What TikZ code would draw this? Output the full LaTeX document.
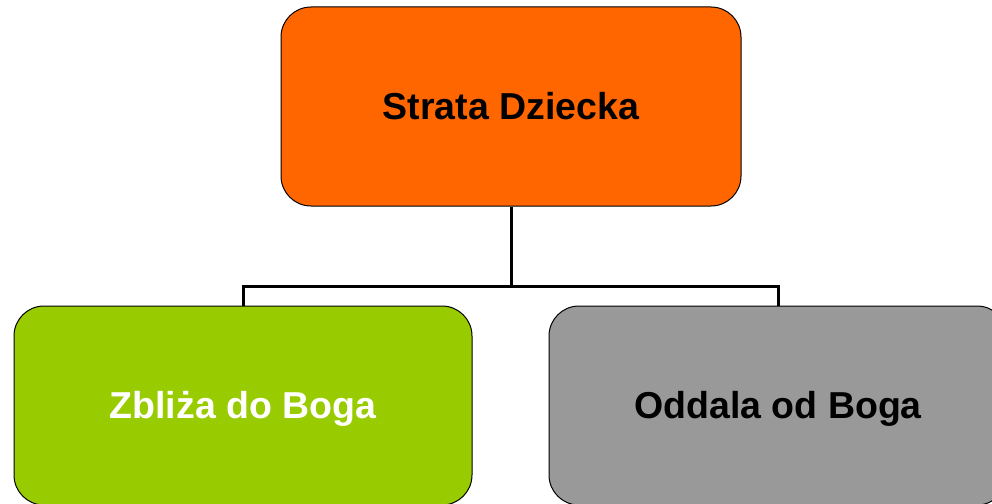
\documentclass[tikz,border=0pt]{standalone}
\usepackage{fontspec}
\setmainfont{Liberation Sans}
\newcommand{\lowertext}[1]{\raisebox{-3.5pt}[\height][\depth]{#1}}
\begin{document}
\begin{tikzpicture}[x=1pt,y=-1pt,
  box/.style={draw=black, line width=1pt, rounded corners=30pt, minimum width=458pt, minimum height=199pt, inner sep=0pt, font=\fontsize{37.5}{45}\selectfont\bfseries},
  conn/.style={draw=black, line width=3pt}]
\clip (0,0) rectangle (992,503);
\useasboundingbox (0,0) rectangle (992,503);
\node[box, fill={rgb,255:red,255;green,102;blue,0}, minimum width=460pt] (top) at (511,106.5) {Strata Dziecka};
\node[box, fill={rgb,255:red,153;green,204;blue,0}, text=white] (left) at (243,405.5) {\lowertext{Zbliża do Boga}};
\node[box, fill={rgb,255:red,153;green,153;blue,153}] (right) at (778,405.5) {\lowertext{Oddala od Boga}};
\coordinate (j) at (511,286.5);
\draw[conn] (top.south) -- (j) -| (left.north);
\draw[conn] (j) -| (right.north);
\end{tikzpicture}
\end{document}
